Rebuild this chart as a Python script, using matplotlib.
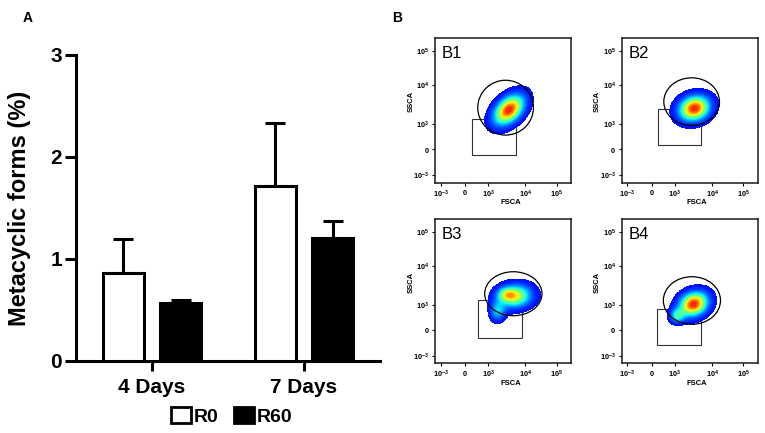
import matplotlib
matplotlib.use("Agg")
import matplotlib.pyplot as plt
from matplotlib.patches import Patch, Rectangle, Ellipse
from matplotlib.colors import Normalize
import numpy as np

plt.rcParams['font.family'] = ['Liberation Sans', 'DejaVu Sans']
plt.rcParams['mathtext.fontset'] = 'custom'
plt.rcParams['mathtext.rm'] = 'Liberation Sans'
plt.rcParams['mathtext.bf'] = 'Liberation Sans:bold'

# ---- panel A data ----
groups = ['4 Days', '7 Days']
series = ['R0', 'R60']
r0_mean = [0.86, 1.72]
r0_err = [0.34, 0.61]
r60_mean = [0.57, 1.21]
r60_err = [0.03, 0.16]
y_ticks = [0, 1, 2, 3]

# ---- panel B data (positions in axes fraction of each flow plot) ----
flow_names = ['B1', 'B2', 'B3', 'B4']
decade_labels = ['$\\mathbf{10^{-3}}$', '$\\mathbf{0}$', '$\\mathbf{10^{3}}$',
                 '$\\mathbf{10^{4}}$', '$\\mathbf{10^{5}}$']
x_decade_pos = [0.042, 0.22, 0.392, 0.666, 0.895]
y_decade_pos = [0.053, 0.231, 0.404, 0.676, 0.912]
# gate rectangles: x0, y0, x1, y1
gate_rects = [(0.273, 0.189, 0.593, 0.441),
              (0.267, 0.260, 0.583, 0.508),
              (0.317, 0.173, 0.642, 0.439),
              (0.262, 0.127, 0.581, 0.376)]
# gate ellipses: cx, cy, width, height
gate_ellipses = [(0.520, 0.520, 0.410, 0.380),
                 (0.515, 0.562, 0.410, 0.330),
                 (0.577, 0.482, 0.422, 0.305),
                 (0.517, 0.435, 0.421, 0.330)]
# density blobs: list of components (cx, cy, sigma_major, sigma_minor, angle, amplitude)
blobs = [
    [(0.545, 0.505, 0.102, 0.063, 40, 1.0)],
    [(0.535, 0.515, 0.090, 0.066, 15, 1.0)],
    [(0.590, 0.465, 0.097, 0.062, 5, 0.8),
     (0.520, 0.480, 0.045, 0.030, 0, 0.25),
     (0.460, 0.355, 0.040, 0.050, 0, 0.45)],
    [(0.530, 0.410, 0.085, 0.063, 20, 1.0),
     (0.405, 0.325, 0.038, 0.035, 0, 0.45)],
]


def blob_density(X, Y, comps):
    f = np.zeros_like(X)
    for cx, cy, sa, sb, ang, amp in comps:
        t = np.deg2rad(ang)
        u = (X - cx) * np.cos(t) + (Y - cy) * np.sin(t)
        v = -(X - cx) * np.sin(t) + (Y - cy) * np.cos(t)
        f += amp * np.exp(-0.5 * ((u / sa) ** 2 + (v / sb) ** 2))
    return f


fig = plt.figure(figsize=(7.65, 4.33), dpi=100)

# ================= Panel A =================
ax = fig.add_axes([0.0993, 0.1663, 0.3974, 0.7067])
x = np.arange(len(groups))
off = 0.19
w = 0.27
ax.bar(x - off, r0_mean, w, color='white', edgecolor='black', linewidth=2.2, zorder=3)
ax.bar(x + off, r60_mean, w, color='black', edgecolor='black', linewidth=2.2, zorder=3)
ax.errorbar(x - off, r0_mean, yerr=[np.zeros(2), r0_err], fmt='none', ecolor='black',
            elinewidth=2.2, capsize=7, capthick=2.2, zorder=2)
ax.errorbar(x + off, r60_mean, yerr=[np.zeros(2), r60_err], fmt='none', ecolor='black',
            elinewidth=2.2, capsize=7, capthick=2.2, zorder=2)
ax.set_xlim(-0.5, 1.5)
ax.set_ylim(0, 3)
ax.spines['top'].set_visible(False)
ax.spines['right'].set_visible(False)
ax.spines['left'].set_linewidth(2.2)
ax.spines['bottom'].set_linewidth(2.2)
ax.set_yticks(y_ticks)
ax.set_yticklabels([str(t) for t in y_ticks], fontsize=15, fontweight='bold')
ax.set_xticks(x)
ax.set_xticklabels(groups, fontsize=15, fontweight='bold')
ax.tick_params(axis='y', length=8, width=2.2, pad=2)
ax.tick_params(axis='x', length=7, width=2.2, pad=5)
ax.set_ylabel('Metacyclic forms (%)', fontsize=17, fontweight='bold')
ax.yaxis.set_label_coords(-0.148, 0.5)

handles = [Patch(facecolor='white', edgecolor='black', linewidth=2),
           Patch(facecolor='black', edgecolor='black', linewidth=2)]
fig.legend(handles, series, loc='center', bbox_to_anchor=(0.303, 0.039), ncol=2,
           frameon=False, prop={'weight': 'bold', 'size': 14}, handlelength=1.0,
           handleheight=0.9, handletextpad=0.15, columnspacing=0.8)

fig.text(0.036, 0.958, 'A', fontsize=10, fontweight='bold', ha='center', va='center')
fig.text(0.519, 0.958, 'B', fontsize=10, fontweight='bold', ha='center', va='center')

# ================= Panel B =================
positions = [[0.5686, 0.578, 0.1775, 0.3333],
             [0.8127, 0.578, 0.1775, 0.3333],
             [0.5686, 0.161, 0.1775, 0.3333],
             [0.8127, 0.161, 0.1775, 0.3333]]
gx = np.linspace(0, 1, 400)
GX, GY = np.meshgrid(gx, gx)
# square the density so the blue outer band is wide and the red core small
norm = Normalize(-0.156, 1.158)

for i, name in enumerate(flow_names):
    bx = fig.add_axes(positions[i])
    bx.set_xlim(0, 1)
    bx.set_ylim(0, 1)
    for s in bx.spines.values():
        s.set_linewidth(1.1)
        s.set_color('#1a1a1a')
    bx.set_xticks(x_decade_pos)
    bx.set_xticklabels(decade_labels, fontsize=5.3)
    bx.set_yticks(y_decade_pos)
    bx.set_yticklabels(decade_labels, fontsize=5.3)
    bx.tick_params(length=2.5, width=0.8, pad=1.5)

    x0, y0, x1, y1 = gate_rects[i]
    bx.add_patch(Rectangle((x0, y0), x1 - x0, y1 - y0, fill=False, edgecolor='#333333',
                           linewidth=0.8, zorder=1))
    f = blob_density(GX, GY, blobs[i])
    h = np.where(f >= 0.12, f ** 2, np.nan)
    levels = np.linspace(0.12 ** 2, np.nanmax(h), 30)
    bx.contourf(GX, GY, h, levels=levels, cmap='jet', norm=norm, zorder=2)
    cx, cy, ew, eh = gate_ellipses[i]
    bx.add_patch(Ellipse((cx, cy), ew, eh, fill=False, edgecolor='black', linewidth=0.9,
                         zorder=3))

    bx.text(0.05, 0.895, name, transform=bx.transAxes, fontsize=12, va='center', ha='left')
    bx.text(0.555, -0.139, 'FSCA', transform=bx.transAxes, fontsize=5.5, fontweight='bold',
            ha='center', va='center')
    bx.text(-0.177, 0.56, 'SSCA', transform=bx.transAxes, fontsize=5.5, fontweight='bold',
            ha='center', va='center', rotation=90)

fig.savefig('out.png', dpi=100)
